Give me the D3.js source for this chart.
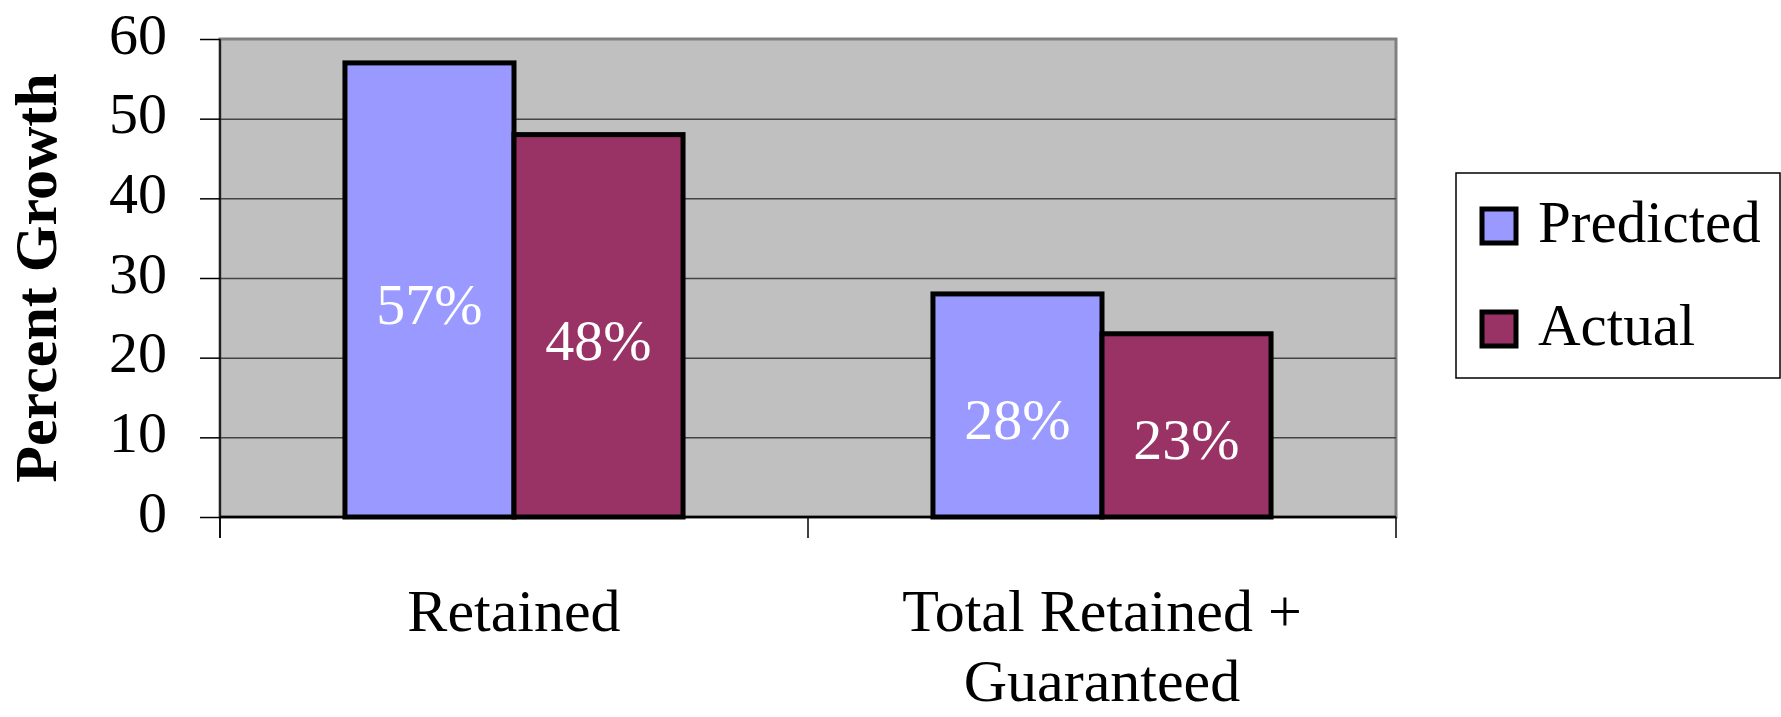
<!DOCTYPE html>
<html>
<head>
<meta charset="utf-8">
<script src="https://cdn.jsdelivr.net/npm/d3@7"></script>
<style>
  body { margin: 0; background: #fff; }
  svg text { font-family: "Liberation Serif", "Times New Roman", serif; }
</style>
</head>
<body>
<div id="chart"></div>
<script>
// chart data
var categories = ["Retained", "Total Retained +\nGuaranteed"];
var seriesNames = ["Predicted", "Actual"];
var predicted = [57, 28];
var actual = [48, 23];
var yTicks = [0, 10, 20, 30, 40, 50, 60];

var colors = {"Predicted": "#9999FF", "Actual": "#993366"};

var W = 1781, H = 717;
const plot = {left: 220, right: 1396, top: 39, bottom: 517};

const svg = d3.select("#chart")
    .append("svg")
    .attr("width", W)
    .attr("height", H);

var x0 = d3.scaleBand()
    .domain(categories)
    .range([plot.left, plot.right])
    .paddingInner(0.425)
    .paddingOuter(0.2125);

var x1 = d3.scaleBand()
    .domain(seriesNames)
    .range([0, x0.bandwidth()]);

var y = d3.scaleLinear()
    .domain([0, 60])
    .range([plot.bottom, plot.top]);

// plot area background
svg.append("rect")
    .attr("x", plot.left)
    .attr("y", plot.top)
    .attr("width", plot.right - plot.left)
    .attr("height", plot.bottom - plot.top)
    .attr("fill", "#C0C0C0")
    .attr("stroke", "#808080")
    .attr("stroke-width", 3);

// gridlines
var grid = svg.append("g")
    .attr("transform", "translate(" + plot.left + ",0)")
    .call(d3.axisLeft(y).tickValues(yTicks.slice(1, -1)).tickSize(-(plot.right - plot.left)).tickFormat(""));
grid.select(".domain").remove();
grid.selectAll("line").attr("stroke", "#444").attr("stroke-width", 1.5);

// bars
var rows = categories.map(function (c, i) {
    return {cat: c, values: [{name: "Predicted", v: predicted[i]}, {name: "Actual", v: actual[i]}]};
});

var groups = svg.selectAll(".grp")
    .data(rows)
    .enter().append("g")
    .attr("class", "grp")
    .attr("transform", function (d) { return "translate(" + x0(d.cat) + ",0)"; });

groups.selectAll("rect")
    .data(function (d) { return d.values; })
    .enter().append("rect")
    .attr("x", function (d) { return x1(d.name); })
    .attr("y", function (d) { return y(d.v); })
    .attr("width", x1.bandwidth())
    .attr("height", function (d) { return y(0) - y(d.v); })
    .attr("fill", function (d) { return colors[d.name]; })
    .attr("stroke", "#000")
    .attr("stroke-width", 5);

groups.selectAll(".lbl")
    .data(function (d) { return d.values; })
    .enter().append("text")
    .attr("class", "lbl")
    .attr("x", function (d) { return x1(d.name) + x1.bandwidth() / 2; })
    .attr("y", function (d) { return y(d.v / 2) + 34; })
    .attr("text-anchor", "middle")
    .attr("fill", "#fff")
    .style("font-size", "58px")
    .text(function (d) { return d.v + "%"; });

// y axis
var yAxis = svg.append("g")
    .attr("transform", "translate(" + plot.left + ",0)")
    .call(d3.axisLeft(y).tickValues(yTicks).tickSize(20).tickPadding(33));
yAxis.select(".domain").remove();
yAxis.selectAll("line").attr("stroke", "#000").attr("stroke-width", 1.5);
yAxis.selectAll("text")
    .attr("dy", "14px")
    .attr("fill", "#000")
    .style("font-size", "58px")
    .style("font-family", "'Liberation Serif', serif");

svg.append("line")
    .attr("x1", plot.left).attr("x2", plot.left)
    .attr("y1", plot.top).attr("y2", plot.bottom + 21)
    .attr("stroke", "#000").attr("stroke-width", 1.5);

// x axis
svg.append("line")
    .attr("x1", plot.left).attr("x2", plot.right)
    .attr("y1", plot.bottom).attr("y2", plot.bottom)
    .attr("stroke", "#000").attr("stroke-width", 2.5);

var catEdges = categories.map(function (c) { return x0(c) - x0.step() * x0.paddingInner() / 2; });
catEdges[0] = plot.left;
catEdges.push(plot.right);
svg.selectAll(".xtick")
    .data(catEdges)
    .enter().append("line")
    .attr("class", "xtick")
    .attr("x1", function (d) { return d; }).attr("x2", function (d) { return d; })
    .attr("y1", plot.bottom).attr("y2", plot.bottom + 21)
    .attr("stroke", "#000").attr("stroke-width", 1.5);

var catLabels = svg.selectAll(".cat")
    .data(categories)
    .enter().append("text")
    .attr("class", "cat")
    .attr("text-anchor", "middle")
    .attr("fill", "#000")
    .style("font-size", "60px");

catLabels.selectAll("tspan")
    .data(function (d) { return d.split("\n").map(function (s) { return {cat: d, s: s}; }); })
    .enter().append("tspan")
    .attr("x", function (d) { return x0(d.cat) + x0.bandwidth() / 2; })
    .attr("y", function (d, i) { return 631 + i * 70; })
    .text(function (d) { return d.s; });

// y title
svg.append("text")
    .attr("transform", "translate(56," + (plot.top + plot.bottom) / 2 + ") rotate(-90)")
    .attr("text-anchor", "middle")
    .attr("fill", "#000")
    .style("font-size", "60px")
    .style("font-weight", "bold")
    .text("Percent Growth");

// legend
var legend = svg.append("g").attr("transform", "translate(1456,173)");
legend.append("rect")
    .attr("width", 324).attr("height", 205)
    .attr("fill", "#fff").attr("stroke", "#000").attr("stroke-width", 1.5);

var items = legend.selectAll(".item")
    .data(seriesNames)
    .enter().append("g")
    .attr("class", "item")
    .attr("transform", function (d, i) { return "translate(0," + (i * 103) + ")"; });

items.append("rect")
    .attr("x", 26).attr("y", 36)
    .attr("width", 34).attr("height", 34)
    .attr("fill", function (d) { return colors[d]; })
    .attr("stroke", "#000").attr("stroke-width", 5);

items.append("text")
    .attr("x", 82).attr("y", 69)
    .attr("fill", "#000")
    .style("font-size", "59px")
    .text(function (d) { return d; });
</script>
</body>
</html>
